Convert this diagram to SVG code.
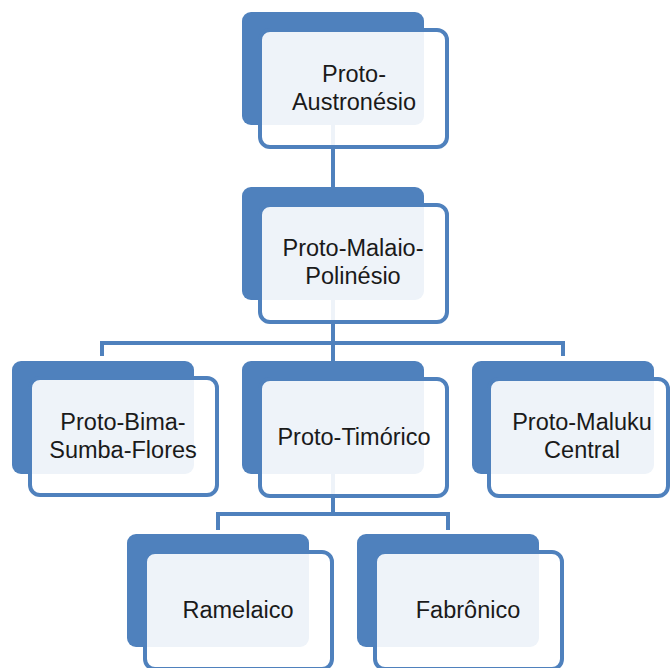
<svg xmlns="http://www.w3.org/2000/svg" width="671" height="668" viewBox="0 0 671 668">
<style>
.bg{fill:#4F81BD}
.fg{fill:#ffffff;fill-opacity:0.9;stroke:#4F81BD;stroke-width:4}
.t{font-family:"Liberation Sans",Arial,sans-serif;font-size:23.5px;fill:#1a1a1a;text-anchor:middle}
.c{fill:none;stroke:#4F81BD;stroke-width:4}
</style>
<rect width="671" height="668" fill="#ffffff"/>
<g id="connectors">
<path class="c" d="M333,125 V190"/>
<path class="c" d="M333,300 V362"/>
<path class="c" d="M102,356 V343 H563 V356"/>
<path class="c" d="M333,474 V514"/>
<path class="c" d="M218,530 V514 H448 V530"/>
</g>
<g id="n1">
<rect class="bg" x="242" y="12" width="182" height="113" rx="9"/>
<rect class="fg" x="260" y="30" width="187" height="117" rx="10"/>
<text class="t" x="354" y="82">Proto-</text>
<text class="t" x="354" y="110">Austronésio</text>
</g>
<g id="n2">
<rect class="bg" x="242" y="187" width="182" height="113" rx="9"/>
<rect class="fg" x="260" y="205" width="187" height="117" rx="10"/>
<text class="t" x="353" y="256">Proto-Malaio-</text>
<text class="t" x="353" y="284">Polinésio</text>
</g>
<g id="n3">
<rect class="bg" x="12" y="361" width="182" height="113" rx="9"/>
<rect class="fg" x="30" y="378" width="187" height="117" rx="10"/>
<text class="t" x="123" y="430">Proto-Bima-</text>
<text class="t" x="123" y="458">Sumba-Flores</text>
</g>
<g id="n4">
<rect class="bg" x="242" y="361" width="182" height="113" rx="9"/>
<rect class="fg" x="260" y="379" width="187" height="117" rx="10"/>
<text class="t" x="354" y="445">Proto-Timórico</text>
</g>
<g id="n5">
<rect class="bg" x="472" y="361" width="182" height="113" rx="9"/>
<rect class="fg" x="489" y="379" width="179" height="117" rx="10"/>
<text class="t" x="582" y="430">Proto-Maluku</text>
<text class="t" x="582" y="458">Central</text>
</g>
<g id="n6">
<rect class="bg" x="127" y="534" width="182" height="113" rx="9"/>
<rect class="fg" x="145" y="552" width="187" height="117" rx="10"/>
<text class="t" x="238" y="618">Ramelaico</text>
</g>
<g id="n7">
<rect class="bg" x="357" y="534" width="182" height="113" rx="9"/>
<rect class="fg" x="375" y="552" width="187" height="117" rx="10"/>
<text class="t" x="468" y="618">Fabrônico</text>
</g>
</svg>
